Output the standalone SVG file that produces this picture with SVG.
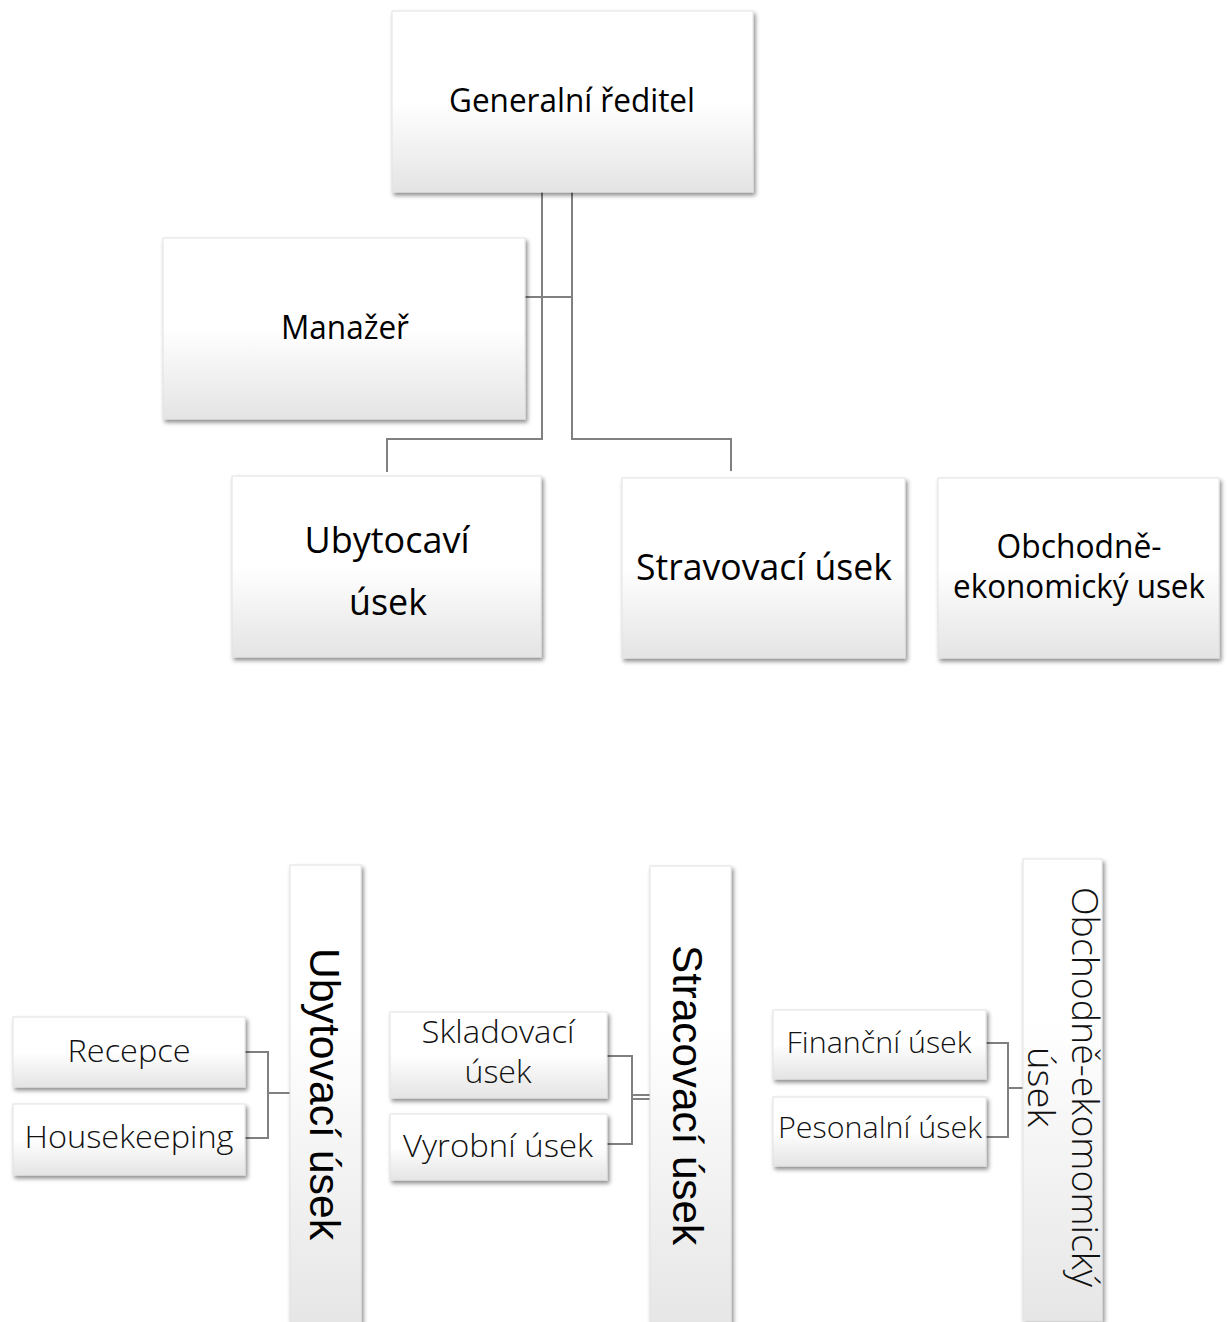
<svg xmlns="http://www.w3.org/2000/svg" width="1229" height="1322" viewBox="0 0 1229 1322">
<defs>
  <linearGradient id="gv" x1="0" y1="0" x2="0" y2="1">
    <stop offset="0" stop-color="#ffffff"/>
    <stop offset="0.5" stop-color="#ffffff"/>
    <stop offset="1" stop-color="#e4e4e4"/>
  </linearGradient>
  <linearGradient id="gt" x1="0" y1="0" x2="0" y2="1">
    <stop offset="0" stop-color="#ffffff"/>
    <stop offset="0.35" stop-color="#ffffff"/>
    <stop offset="1" stop-color="#e6e6e6"/>
  </linearGradient>
  <filter id="sh" x="-10%" y="-10%" width="125%" height="130%">
    <feDropShadow dx="2" dy="3" stdDeviation="2.2" flood-color="#000" flood-opacity="0.45"/>
  </filter>
</defs>
<style>
  .box { fill: url(#gv); stroke: #e2e2e2; stroke-width: 1; filter: url(#sh); }
  .tall { fill: url(#gt); stroke: #e2e2e2; stroke-width: 1; filter: url(#sh); }
  .t1 { font-family: "Open Sans", "Liberation Sans", sans-serif; fill: #000; text-anchor: middle; }
  .t2 { font-family: "Open Sans", "Liberation Sans", sans-serif; fill: #111; text-anchor: middle; font-weight: 300; }
  .t3 { font-family: "Liberation Sans", Arial, sans-serif; fill: #000; text-anchor: middle; }
  .con { fill: none; stroke: #808080; stroke-width: 2; }
</style>

<g id="connectors">
  <path class="con" d="M542 192 V439 H387 V472"/>
  <path class="con" d="M572 192 V439 H731 V471"/>
  <path class="con" d="M525 297 H572"/>
  <path class="con" d="M245 1052 H268 V1138 H245"/>
  <path class="con" d="M268 1093 H290"/>
  <path class="con" d="M607 1056 H632 V1144 H607"/>
  <path class="con" d="M632 1095 H650"/>
  <path class="con" d="M632 1099 H650"/>
  <path class="con" d="M986 1043 H1008 V1137 H986"/>
  <path class="con" d="M1008 1088 H1023"/>
</g>

<g id="generalni-reditel">
  <rect class="box" x="392" y="11" width="361" height="181"/>
  <text class="t1" x="572" y="112" font-size="32" textLength="246" lengthAdjust="spacingAndGlyphs">Generalní ředitel</text>
</g>
<g id="manazer">
  <rect class="box" x="163" y="238" width="362" height="181"/>
  <text class="t1" x="345" y="339" font-size="32" textLength="128" lengthAdjust="spacingAndGlyphs">Manažeř</text>
</g>
<g id="ubytocavi-usek">
  <rect class="box" x="232" y="476" width="309" height="181"/>
  <text class="t1" x="387" y="553" font-size="36" textLength="165" lengthAdjust="spacingAndGlyphs">Ubytocaví</text>
  <text class="t1" x="388" y="615" font-size="36" textLength="78" lengthAdjust="spacingAndGlyphs">úsek</text>
</g>
<g id="stravovaci-usek">
  <rect class="box" x="622" y="478" width="283" height="180"/>
  <text class="t1" x="764" y="580" font-size="36" textLength="256" lengthAdjust="spacingAndGlyphs">Stravovací úsek</text>
</g>
<g id="obchodne-ekonomicky-usek">
  <rect class="box" x="938" y="478" width="281" height="180"/>
  <text class="t1" x="1079" y="558" font-size="32" textLength="165" lengthAdjust="spacingAndGlyphs">Obchodně-</text>
  <text class="t1" x="1079" y="598" font-size="32" textLength="252" lengthAdjust="spacingAndGlyphs">ekonomický usek</text>
</g>

<g id="ubytovaci-usek">
  <rect class="tall" x="290" y="865" width="71" height="460"/>
  <text class="t3" transform="translate(310,1094) rotate(90)" x="0" y="0" font-size="42" textLength="292" lengthAdjust="spacingAndGlyphs">Ubytovací úsek</text>
</g>
<g id="recepce">
  <rect class="box" x="13" y="1017" width="232" height="70"/>
  <text class="t2" x="129" y="1062" font-size="31" textLength="123" lengthAdjust="spacingAndGlyphs">Recepce</text>
</g>
<g id="housekeeping">
  <rect class="box" x="13" y="1104" width="232" height="71"/>
  <text class="t2" x="129" y="1148" font-size="31" textLength="209" lengthAdjust="spacingAndGlyphs">Housekeeping</text>
</g>

<g id="stracovaci-usek">
  <rect class="tall" x="650" y="866" width="81" height="460"/>
  <text class="t3" transform="translate(673,1095) rotate(90)" x="0" y="0" font-size="42" textLength="300" lengthAdjust="spacingAndGlyphs">Stracovací úsek</text>
</g>
<g id="skladovaci-usek">
  <rect class="box" x="390" y="1012" width="217" height="86"/>
  <text class="t2" x="498" y="1043" font-size="31" textLength="153" lengthAdjust="spacingAndGlyphs">Skladovací</text>
  <text class="t2" x="498" y="1083" font-size="31" textLength="67" lengthAdjust="spacingAndGlyphs">úsek</text>
</g>
<g id="vyrobni-usek">
  <rect class="box" x="390" y="1114" width="217" height="66"/>
  <text class="t2" x="498" y="1157" font-size="31" textLength="190" lengthAdjust="spacingAndGlyphs">Vyrobní úsek</text>
</g>

<g id="obchodne-ekomomicky-usek">
  <rect class="tall" x="1023" y="859" width="79" height="462"/>
  <text class="t2" transform="translate(1072,1087) rotate(90)" x="0" y="0" font-size="36" textLength="400" lengthAdjust="spacingAndGlyphs">Obchodně-ekomomický</text>
  <text class="t2" transform="translate(1028,1087) rotate(90)" x="0" y="0" font-size="36" textLength="80" lengthAdjust="spacingAndGlyphs">úsek</text>
</g>
<g id="financni-usek">
  <rect class="box" x="773" y="1010" width="213" height="69"/>
  <text class="t2" x="879" y="1053" font-size="30" textLength="185" lengthAdjust="spacingAndGlyphs">Finanční úsek</text>
</g>
<g id="pesonalni-usek">
  <rect class="box" x="773" y="1097" width="213" height="69"/>
  <text class="t2" x="880" y="1138" font-size="30" textLength="204" lengthAdjust="spacingAndGlyphs">Pesonalní úsek</text>
</g>
</svg>
